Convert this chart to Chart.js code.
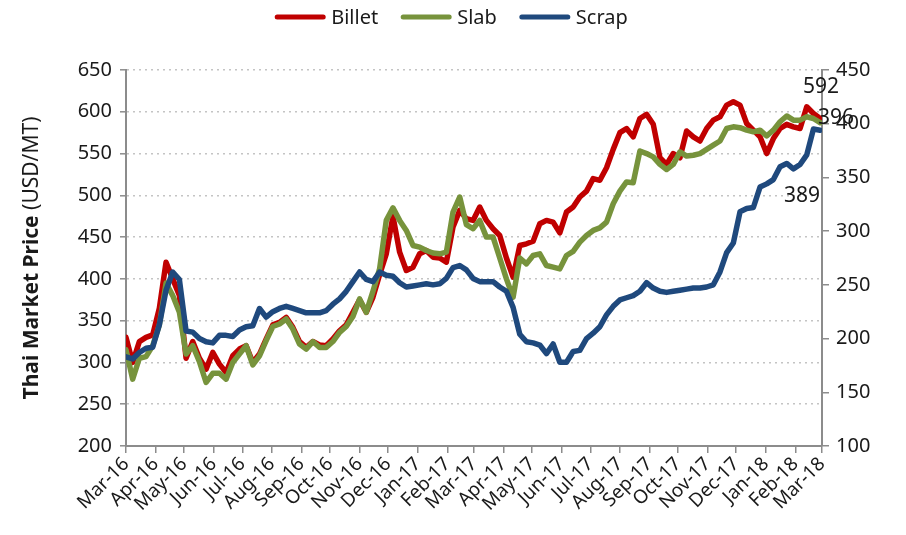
<!DOCTYPE html>
<html>
<head>
<meta charset="utf-8">
<script src="https://cdn.jsdelivr.net/npm/chart.js@4.4.1/dist/chart.umd.min.js"></script>
<style>
  html, body { margin: 0; padding: 0; background: #fff; }
  #wrap { width: 906px; height: 535px; position: relative; }
</style>
</head>
<body>
<div id="wrap"><canvas id="chart" width="906" height="535"></canvas></div>
<script>
// month ticks (days counted from 1 Mar 2016)
const monthLabels = ['Mar-16','Apr-16','May-16','Jun-16','Jul-16','Aug-16','Sep-16','Oct-16','Nov-16','Dec-16',
  'Jan-17','Feb-17','Mar-17','Apr-17','May-17','Jun-17','Jul-17','Aug-17','Sep-17','Oct-17','Nov-17','Dec-17',
  'Jan-18','Feb-18','Mar-18'];
const monthStartDays = [0,31,61,92,122,153,184,214,245,275,306,337,365,396,426,457,487,518,549,579,610,640,671,702,730];

// weekly readings, USD/MT
const billet = [330,300,325,330,333,365,420,400,380,305,325,305,292,312,298,288,308,316,
  320,300,310,328,345,348,354,342,325,318,325,321,320,328,338,345,360,
  375,360,378,405,430,475,432,410,414,430,434,426,425,420,462,482,472,
  470,486,470,460,452,425,402,440,442,445,466,470,468,455,480,486,498,
  505,520,518,533,555,575,580,570,592,597,585,545,537,550,545,577,570,
  565,580,590,594,608,612,608,586,578,570,550,568,580,585,582,580,606,598,592];
const slab = [315,280,305,307,320,345,395,380,360,310,320,301,276,287,287,280,300,310,
  320,297,308,326,343,346,352,340,322,316,325,318,318,325,336,343,355,
  376,360,385,412,470,485,470,458,440,438,434,431,430,432,480,498,465,
  460,470,450,450,425,400,378,425,418,428,430,416,414,412,428,433,444,
  452,458,461,468,490,505,516,515,553,550,546,537,531,537,552,547,548,
  550,555,560,565,580,582,581,578,576,578,571,578,588,595,590,590,594,592,587];
const scrap = [183,181,187,191,192,213,245,262,255,207,206,200,197,196,203,203,202,208,
  211,212,228,220,225,228,230,228,226,224,224,224,226,232,237,244,253,
  262,255,253,262,259,258,252,248,249,250,251,250,251,256,266,268,264,
  256,253,253,253,248,244,229,204,197,196,194,186,195,178,178,188,189,
  200,205,211,222,230,236,238,240,244,252,247,244,243,244,245,246,247,
  247,248,250,262,280,289,318,321,322,341,344,348,360,363,358,362,371,395,394];

const seriesNames = ['Billet', 'Slab', 'Scrap'];
const endLabelText = ['592', '389', '396'];

const FONT = '"Noto Sans", "Open Sans", sans-serif';
const TEXT = '#1a1a1a';
const AXIS = '#8c8c8c';

function toPoints(vals) {
  return vals.map((v, i) => ({ x: i * 7, y: v }));
}

const legendPlugin = {
  id: 'topLegend',
  afterDraw(chart) {
    const ctx = chart.ctx;
    const sets = chart.data.datasets;
    ctx.save();
    ctx.font = '20px ' + FONT;
    const lineLen = 52, gap = 5, space = 22;
    let total = 0;
    const widths = sets.map(d => ctx.measureText(d.label).width);
    widths.forEach(w => total += lineLen + gap + w);
    total += space * (sets.length - 1);
    let x = 451 - total / 2;
    const y = 17;
    sets.forEach((d, i) => {
      ctx.strokeStyle = d.borderColor;
      ctx.lineWidth = 5;
      ctx.lineCap = 'round';
      ctx.beginPath();
      ctx.moveTo(x + 3, y);
      ctx.lineTo(x + lineLen - 3, y);
      ctx.stroke();
      ctx.fillStyle = TEXT;
      ctx.textBaseline = 'middle';
      ctx.textAlign = 'left';
      ctx.fillText(d.label, x + lineLen + gap, y + 1);
      x += lineLen + gap + widths[i] + space;
    });
    ctx.restore();
  }
};

const yTitlePlugin = {
  id: 'yTitle',
  afterDraw(chart) {
    const ctx = chart.ctx;
    const area = chart.chartArea;
    const bold = 'Thai Market Price';
    const normal = ' (USD/MT)';
    ctx.save();
    ctx.translate(32, (area.top + area.bottom) / 2);
    ctx.rotate(-Math.PI / 2);
    ctx.font = 'bold 21px ' + FONT;
    const wb = ctx.measureText(bold).width;
    ctx.font = '21px ' + FONT;
    const wn = ctx.measureText(normal).width;
    let x = -(wb + wn) / 2;
    ctx.fillStyle = TEXT;
    ctx.textBaseline = 'middle';
    ctx.textAlign = 'left';
    ctx.font = 'bold 21px ' + FONT;
    ctx.fillText(bold, x, 0);
    ctx.font = '21px ' + FONT;
    ctx.fillText(normal, x + wb, 0);
    ctx.restore();
  }
};

const endLabelPlugin = {
  id: 'endLabels',
  afterDatasetsDraw(chart, args, opts) {
    const ctx = chart.ctx;
    ctx.save();
    ctx.font = '21px ' + FONT;
    ctx.fillStyle = TEXT;
    ctx.textBaseline = 'middle';
    opts.place.forEach((p, i) => {
      const meta = chart.getDatasetMeta(i);
      const last = meta.data[meta.data.length - 1];
      ctx.textAlign = p.align;
      ctx.fillText(endLabelText[i], last.x + p.dx, last.y + p.dy);
    });
    ctx.restore();
  }
};

new Chart(document.getElementById('chart'), {
  type: 'line',
  data: {
    datasets: [
      { label: seriesNames[0], data: toPoints(billet), borderColor: '#C00000', yAxisID: 'y', order: 3 },
      { label: seriesNames[1], data: toPoints(slab), borderColor: '#77933C', yAxisID: 'y', order: 2 },
      { label: seriesNames[2], data: toPoints(scrap), borderColor: '#1F497D', yAxisID: 'y1', order: 1 }
    ]
  },
  options: {
    responsive: false,
    animation: false,
    layout: { padding: { top: 70, left: 0, right: 0, bottom: 0 } },
    elements: {
      point: { radius: 0 },
      line: { borderWidth: 5.5, tension: 0, borderJoinStyle: 'round', borderCapStyle: 'round' }
    },
    plugins: {
      legend: { display: false },
      tooltip: { enabled: false },
      endLabels: {
        place: [
          { dx: 1, dy: -31, align: 'center' },
          { dx: 0, dy: 73, align: 'right' },
          { dx: -2, dy: -12, align: 'left' }
        ]
      }
    },
    scales: {
      x: {
        type: 'linear',
        min: 0,
        max: 730,
        afterBuildTicks: s => { s.ticks = monthStartDays.map(v => ({ value: v })); },
        afterFit: s => { s.height = 89; },
        ticks: {
          autoSkip: false,
          maxRotation: 45,
          minRotation: 45,
          padding: 0,
          color: TEXT,
          font: { family: FONT, size: 19 },
          callback: (v, i) => monthLabels[i]
        },
        grid: { drawOnChartArea: false, drawTicks: true, tickLength: 7, color: AXIS, lineWidth: 1.5 },
        border: { color: AXIS, width: 2 }
      },
      y: {
        position: 'left',
        min: 200,
        max: 650,
        afterFit: s => { s.width = 126; },
        ticks: { stepSize: 50, padding: 8, color: TEXT, font: { family: FONT, size: 20 } },
        grid: { color: '#c4c4c4', lineWidth: 1.6, tickLength: 6, tickColor: AXIS, tickBorderDash: [], tickWidth: 1.5 },
        border: { color: AXIS, width: 2, dash: [2, 4] }
      },
      y1: {
        position: 'right',
        min: 100,
        max: 450,
        afterFit: s => { s.width = 84; },
        ticks: { stepSize: 50, padding: 7, color: TEXT, font: { family: FONT, size: 20 } },
        grid: { drawOnChartArea: false, tickLength: 7, color: AXIS, lineWidth: 1.5 },
        border: { color: AXIS, width: 2 }
      }
    }
  },
  plugins: [legendPlugin, yTitlePlugin, endLabelPlugin]
});
</script>
</body>
</html>
